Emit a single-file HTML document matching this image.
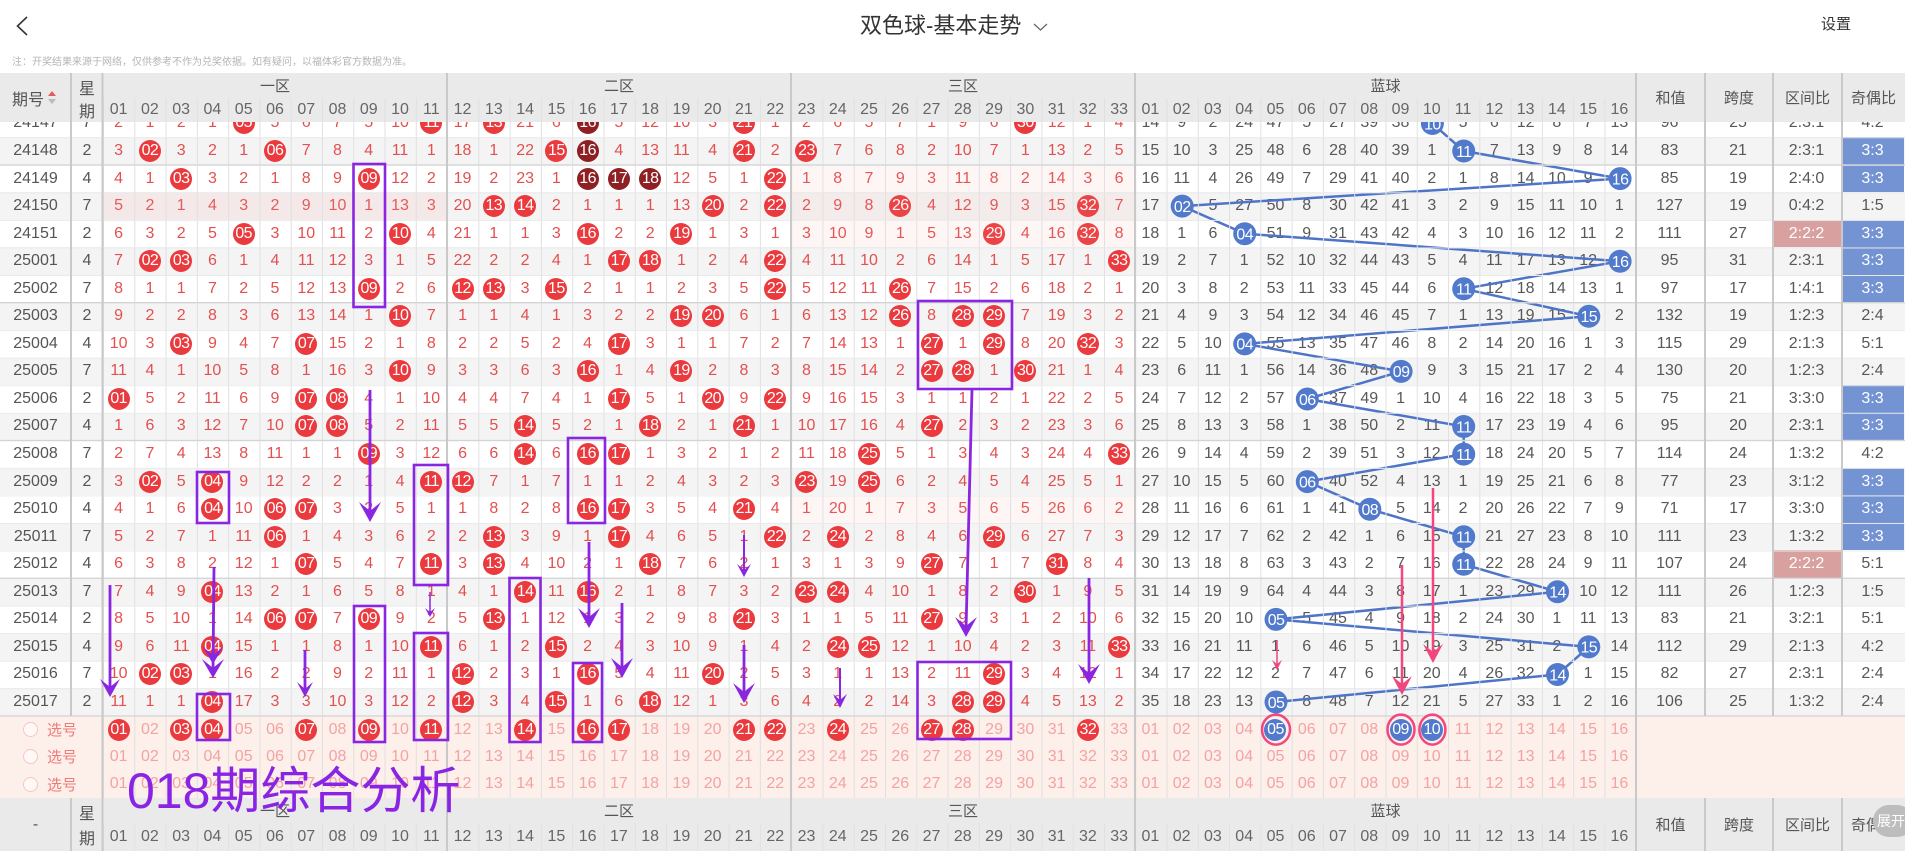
<!DOCTYPE html>
<html><head><meta charset="utf-8">
<style>
*{margin:0;padding:0;box-sizing:border-box}
html,body{width:1905px;height:851px;overflow:hidden;background:#fff}
body{position:relative;font-family:"Liberation Sans","Noto Sans CJK SC",sans-serif;color:#555}
c{display:flex;align-items:center;justify-content:center;flex:none;width:31.28px;height:100%;white-space:nowrap}
b{display:flex;align-items:center;justify-content:center;width:22px;height:22px;border-radius:50%;background:#ea3a3e;color:#fff;font-weight:normal;letter-spacing:-.6px;font-size:16px}
b.d{background:#8e1f22}
b.u{background:#5179cc}
#dt{position:absolute;left:0;top:109.7px;width:1905px;z-index:1}
.r{display:flex;height:27.55px;font-size:16px;background:#fff}
.r.g{background:#f4f4f4}
.r c:nth-child(1){width:71px;color:#555}
.r c:nth-child(2){width:32px;color:#555}
.r c:nth-child(n+3){color:#e44f4f}
.r c:nth-child(n+36){color:#585858}
.r c:nth-child(52){width:69px}
.r c:nth-child(53){width:68px}
.r c:nth-child(54){width:69px}
.r c:nth-child(55){width:63px}
c.bl{background:#7393d3!important;color:#fff!important}
c.pk{background:#d9a0a0!important;color:#fff!important}
#xh{position:absolute;left:0;top:716px;width:1905px;height:82px;background:#fdefe9;z-index:1}
.x{display:flex;height:27.33px;font-size:16px;color:#f3a3a3}
.x c:first-child{width:103px;justify-content:flex-start;padding-left:23px;color:#f07a7a;font-size:15px}
.x c:first-child i{display:block;width:15px;height:15px;border:1px solid #f5c6c6;border-radius:50%;margin-right:9px;background:#fff8f6}
#hd,#ft{position:absolute;left:0;width:1905px;background:#eaeaea;z-index:5;color:#555;font-size:15px}
#hd{top:73px;height:49px}
#ft{top:798px;height:53px}
.ab{position:absolute;display:flex;align-items:center;justify-content:center}
.nr{position:absolute;left:103px;display:flex;font-size:16px;color:#666}
</style></head><body>

<!-- top bar -->
<svg width="40" height="50" style="position:absolute;left:0;top:0"><polyline points="27,17 17.5,26 27,35" fill="none" stroke="#333" stroke-width="1.6"/></svg>
<div style="position:absolute;left:860px;top:15px;font-size:22px;line-height:22px;color:#333;white-space:nowrap">双色球-基本走势</div>
<svg width="20" height="14" style="position:absolute;left:1031px;top:20px"><polyline points="3,4 9.5,10 16,4" fill="none" stroke="#666" stroke-width="1.2"/></svg>
<div style="position:absolute;left:1821px;top:17px;font-size:15px;line-height:16px;color:#333">设置</div>
<div style="position:absolute;left:12px;top:57px;font-size:10px;line-height:12px;color:#b4b4b4;white-space:nowrap">注：开奖结果来源于网络，仅供参考不作为兑奖依据。如有疑问，以福体彩官方数据为准。</div>

<!-- header -->
<div id="hd">
<div class="ab" style="left:0;top:0;width:71px;height:49px;font-size:16px;justify-content:flex-start;padding-left:12px">期号<svg width="10" height="20" style="margin-left:3px"><polygon points="1,8 5,3 9,8" fill="#e85a5a"/><polygon points="1,11 5,16 9,11" fill="#bbb"/></svg></div>
<div class="ab" style="left:71px;top:1px;width:32px;height:25px;font-size:16px">星</div>
<div class="ab" style="left:71px;top:25px;width:32px;height:24px;font-size:16px">期</div>
<div class="ab" style="left:103px;top:0;width:344px;height:25px">一区</div>
<div class="ab" style="left:447px;top:0;width:344px;height:25px">二区</div>
<div class="ab" style="left:791px;top:0;width:344px;height:25px">三区</div>
<div class="ab" style="left:1135px;top:0;width:501px;height:25px">蓝球</div>
<div class="nr" style="top:25px;height:24px"><c>01</c><c>02</c><c>03</c><c>04</c><c>05</c><c>06</c><c>07</c><c>08</c><c>09</c><c>10</c><c>11</c><c>12</c><c>13</c><c>14</c><c>15</c><c>16</c><c>17</c><c>18</c><c>19</c><c>20</c><c>21</c><c>22</c><c>23</c><c>24</c><c>25</c><c>26</c><c>27</c><c>28</c><c>29</c><c>30</c><c>31</c><c>32</c><c>33</c><c>01</c><c>02</c><c>03</c><c>04</c><c>05</c><c>06</c><c>07</c><c>08</c><c>09</c><c>10</c><c>11</c><c>12</c><c>13</c><c>14</c><c>15</c><c>16</c></div>
<div class="ab" style="left:1636px;top:0;width:69px;height:49px">和值</div>
<div class="ab" style="left:1705px;top:0;width:68px;height:49px">跨度</div>
<div class="ab" style="left:1773px;top:0;width:69px;height:49px">区间比</div>
<div class="ab" style="left:1842px;top:0;width:63px;height:49px">奇偶比</div>
</div>

<!-- data rows -->
<div id="dt">
<div class="r"><c>24147</c><c>7</c><c>2</c><c>1</c><c>2</c><c>1</c><c><b>05</b></c><c>5</c><c>6</c><c>7</c><c>5</c><c>10</c><c><b>11</b></c><c>17</c><c><b>13</b></c><c>21</c><c>6</c><c><b class="d">16</b></c><c>5</c><c>12</c><c>10</c><c>3</c><c><b>21</b></c><c>1</c><c>2</c><c>6</c><c>5</c><c>7</c><c>1</c><c>9</c><c>6</c><c><b>30</b></c><c>12</c><c>1</c><c>4</c><c>14</c><c>9</c><c>2</c><c>24</c><c>47</c><c>5</c><c>27</c><c>39</c><c>38</c><c></c><c>5</c><c>6</c><c>12</c><c>8</c><c>7</c><c>13</c><c>96</c><c>25</c><c>2:3:1</c><c>4:2</c></div>
<div class="r g"><c>24148</c><c>2</c><c>3</c><c><b>02</b></c><c>3</c><c>2</c><c>1</c><c><b>06</b></c><c>7</c><c>8</c><c>4</c><c>11</c><c>1</c><c>18</c><c>1</c><c>22</c><c><b>15</b></c><c><b class="d">16</b></c><c>4</c><c>13</c><c>11</c><c>4</c><c><b>21</b></c><c>2</c><c><b>23</b></c><c>7</c><c>6</c><c>8</c><c>2</c><c>10</c><c>7</c><c>1</c><c>13</c><c>2</c><c>5</c><c>15</c><c>10</c><c>3</c><c>25</c><c>48</c><c>6</c><c>28</c><c>40</c><c>39</c><c>1</c><c></c><c>7</c><c>13</c><c>9</c><c>8</c><c>14</c><c>83</c><c>21</c><c>2:3:1</c><c class="bl">3:3</c></div>
<div class="r"><c>24149</c><c>4</c><c>4</c><c>1</c><c><b>03</b></c><c>3</c><c>2</c><c>1</c><c>8</c><c>9</c><c><b>09</b></c><c>12</c><c>2</c><c>19</c><c>2</c><c>23</c><c>1</c><c><b class="d">16</b></c><c><b class="d">17</b></c><c><b class="d">18</b></c><c>12</c><c>5</c><c>1</c><c><b>22</b></c><c>1</c><c>8</c><c>7</c><c>9</c><c>3</c><c>11</c><c>8</c><c>2</c><c>14</c><c>3</c><c>6</c><c>16</c><c>11</c><c>4</c><c>26</c><c>49</c><c>7</c><c>29</c><c>41</c><c>40</c><c>2</c><c>1</c><c>8</c><c>14</c><c>10</c><c>9</c><c></c><c>85</c><c>19</c><c>2:4:0</c><c class="bl">3:3</c></div>
<div class="r g"><c>24150</c><c>7</c><c>5</c><c>2</c><c>1</c><c>4</c><c>3</c><c>2</c><c>9</c><c>10</c><c>1</c><c>13</c><c>3</c><c>20</c><c><b>13</b></c><c><b>14</b></c><c>2</c><c>1</c><c>1</c><c>1</c><c>13</c><c><b>20</b></c><c>2</c><c><b>22</b></c><c>2</c><c>9</c><c>8</c><c><b>26</b></c><c>4</c><c>12</c><c>9</c><c>3</c><c>15</c><c><b>32</b></c><c>7</c><c>17</c><c></c><c>5</c><c>27</c><c>50</c><c>8</c><c>30</c><c>42</c><c>41</c><c>3</c><c>2</c><c>9</c><c>15</c><c>11</c><c>10</c><c>1</c><c>127</c><c>19</c><c>0:4:2</c><c>1:5</c></div>
<div class="r"><c>24151</c><c>2</c><c>6</c><c>3</c><c>2</c><c>5</c><c><b>05</b></c><c>3</c><c>10</c><c>11</c><c>2</c><c><b>10</b></c><c>4</c><c>21</c><c>1</c><c>1</c><c>3</c><c><b>16</b></c><c>2</c><c>2</c><c><b>19</b></c><c>1</c><c>3</c><c>1</c><c>3</c><c>10</c><c>9</c><c>1</c><c>5</c><c>13</c><c><b>29</b></c><c>4</c><c>16</c><c><b>32</b></c><c>8</c><c>18</c><c>1</c><c>6</c><c></c><c>51</c><c>9</c><c>31</c><c>43</c><c>42</c><c>4</c><c>3</c><c>10</c><c>16</c><c>12</c><c>11</c><c>2</c><c>111</c><c>27</c><c class="pk">2:2:2</c><c class="bl">3:3</c></div>
<div class="r g"><c>25001</c><c>4</c><c>7</c><c><b>02</b></c><c><b>03</b></c><c>6</c><c>1</c><c>4</c><c>11</c><c>12</c><c>3</c><c>1</c><c>5</c><c>22</c><c>2</c><c>2</c><c>4</c><c>1</c><c><b>17</b></c><c><b>18</b></c><c>1</c><c>2</c><c>4</c><c><b>22</b></c><c>4</c><c>11</c><c>10</c><c>2</c><c>6</c><c>14</c><c>1</c><c>5</c><c>17</c><c>1</c><c><b>33</b></c><c>19</c><c>2</c><c>7</c><c>1</c><c>52</c><c>10</c><c>32</c><c>44</c><c>43</c><c>5</c><c>4</c><c>11</c><c>17</c><c>13</c><c>12</c><c></c><c>95</c><c>31</c><c>2:3:1</c><c class="bl">3:3</c></div>
<div class="r"><c>25002</c><c>7</c><c>8</c><c>1</c><c>1</c><c>7</c><c>2</c><c>5</c><c>12</c><c>13</c><c><b>09</b></c><c>2</c><c>6</c><c><b>12</b></c><c><b>13</b></c><c>3</c><c><b>15</b></c><c>2</c><c>1</c><c>1</c><c>2</c><c>3</c><c>5</c><c><b>22</b></c><c>5</c><c>12</c><c>11</c><c><b>26</b></c><c>7</c><c>15</c><c>2</c><c>6</c><c>18</c><c>2</c><c>1</c><c>20</c><c>3</c><c>8</c><c>2</c><c>53</c><c>11</c><c>33</c><c>45</c><c>44</c><c>6</c><c></c><c>12</c><c>18</c><c>14</c><c>13</c><c>1</c><c>97</c><c>17</c><c>1:4:1</c><c class="bl">3:3</c></div>
<div class="r g"><c>25003</c><c>2</c><c>9</c><c>2</c><c>2</c><c>8</c><c>3</c><c>6</c><c>13</c><c>14</c><c>1</c><c><b>10</b></c><c>7</c><c>1</c><c>1</c><c>4</c><c>1</c><c>3</c><c>2</c><c>2</c><c><b>19</b></c><c><b>20</b></c><c>6</c><c>1</c><c>6</c><c>13</c><c>12</c><c><b>26</b></c><c>8</c><c><b>28</b></c><c><b>29</b></c><c>7</c><c>19</c><c>3</c><c>2</c><c>21</c><c>4</c><c>9</c><c>3</c><c>54</c><c>12</c><c>34</c><c>46</c><c>45</c><c>7</c><c>1</c><c>13</c><c>19</c><c>15</c><c></c><c>2</c><c>132</c><c>19</c><c>1:2:3</c><c>2:4</c></div>
<div class="r"><c>25004</c><c>4</c><c>10</c><c>3</c><c><b>03</b></c><c>9</c><c>4</c><c>7</c><c><b>07</b></c><c>15</c><c>2</c><c>1</c><c>8</c><c>2</c><c>2</c><c>5</c><c>2</c><c>4</c><c><b>17</b></c><c>3</c><c>1</c><c>1</c><c>7</c><c>2</c><c>7</c><c>14</c><c>13</c><c>1</c><c><b>27</b></c><c>1</c><c><b>29</b></c><c>8</c><c>20</c><c><b>32</b></c><c>3</c><c>22</c><c>5</c><c>10</c><c></c><c>55</c><c>13</c><c>35</c><c>47</c><c>46</c><c>8</c><c>2</c><c>14</c><c>20</c><c>16</c><c>1</c><c>3</c><c>115</c><c>29</c><c>2:1:3</c><c>5:1</c></div>
<div class="r g"><c>25005</c><c>7</c><c>11</c><c>4</c><c>1</c><c>10</c><c>5</c><c>8</c><c>1</c><c>16</c><c>3</c><c><b>10</b></c><c>9</c><c>3</c><c>3</c><c>6</c><c>3</c><c><b>16</b></c><c>1</c><c>4</c><c><b>19</b></c><c>2</c><c>8</c><c>3</c><c>8</c><c>15</c><c>14</c><c>2</c><c><b>27</b></c><c><b>28</b></c><c>1</c><c><b>30</b></c><c>21</c><c>1</c><c>4</c><c>23</c><c>6</c><c>11</c><c>1</c><c>56</c><c>14</c><c>36</c><c>48</c><c></c><c>9</c><c>3</c><c>15</c><c>21</c><c>17</c><c>2</c><c>4</c><c>130</c><c>20</c><c>1:2:3</c><c>2:4</c></div>
<div class="r"><c>25006</c><c>2</c><c><b>01</b></c><c>5</c><c>2</c><c>11</c><c>6</c><c>9</c><c><b>07</b></c><c><b>08</b></c><c>4</c><c>1</c><c>10</c><c>4</c><c>4</c><c>7</c><c>4</c><c>1</c><c><b>17</b></c><c>5</c><c>1</c><c><b>20</b></c><c>9</c><c><b>22</b></c><c>9</c><c>16</c><c>15</c><c>3</c><c>1</c><c>1</c><c>2</c><c>1</c><c>22</c><c>2</c><c>5</c><c>24</c><c>7</c><c>12</c><c>2</c><c>57</c><c></c><c>37</c><c>49</c><c>1</c><c>10</c><c>4</c><c>16</c><c>22</c><c>18</c><c>3</c><c>5</c><c>75</c><c>21</c><c>3:3:0</c><c class="bl">3:3</c></div>
<div class="r g"><c>25007</c><c>4</c><c>1</c><c>6</c><c>3</c><c>12</c><c>7</c><c>10</c><c><b>07</b></c><c><b>08</b></c><c>5</c><c>2</c><c>11</c><c>5</c><c>5</c><c><b>14</b></c><c>5</c><c>2</c><c>1</c><c><b>18</b></c><c>2</c><c>1</c><c><b>21</b></c><c>1</c><c>10</c><c>17</c><c>16</c><c>4</c><c><b>27</b></c><c>2</c><c>3</c><c>2</c><c>23</c><c>3</c><c>6</c><c>25</c><c>8</c><c>13</c><c>3</c><c>58</c><c>1</c><c>38</c><c>50</c><c>2</c><c>11</c><c></c><c>17</c><c>23</c><c>19</c><c>4</c><c>6</c><c>95</c><c>20</c><c>2:3:1</c><c class="bl">3:3</c></div>
<div class="r"><c>25008</c><c>7</c><c>2</c><c>7</c><c>4</c><c>13</c><c>8</c><c>11</c><c>1</c><c>1</c><c><b>09</b></c><c>3</c><c>12</c><c>6</c><c>6</c><c><b>14</b></c><c>6</c><c><b>16</b></c><c><b>17</b></c><c>1</c><c>3</c><c>2</c><c>1</c><c>2</c><c>11</c><c>18</c><c><b>25</b></c><c>5</c><c>1</c><c>3</c><c>4</c><c>3</c><c>24</c><c>4</c><c><b>33</b></c><c>26</c><c>9</c><c>14</c><c>4</c><c>59</c><c>2</c><c>39</c><c>51</c><c>3</c><c>12</c><c></c><c>18</c><c>24</c><c>20</c><c>5</c><c>7</c><c>114</c><c>24</c><c>1:3:2</c><c>4:2</c></div>
<div class="r g"><c>25009</c><c>2</c><c>3</c><c><b>02</b></c><c>5</c><c><b>04</b></c><c>9</c><c>12</c><c>2</c><c>2</c><c>1</c><c>4</c><c><b>11</b></c><c><b>12</b></c><c>7</c><c>1</c><c>7</c><c>1</c><c>1</c><c>2</c><c>4</c><c>3</c><c>2</c><c>3</c><c><b>23</b></c><c>19</c><c><b>25</b></c><c>6</c><c>2</c><c>4</c><c>5</c><c>4</c><c>25</c><c>5</c><c>1</c><c>27</c><c>10</c><c>15</c><c>5</c><c>60</c><c></c><c>40</c><c>52</c><c>4</c><c>13</c><c>1</c><c>19</c><c>25</c><c>21</c><c>6</c><c>8</c><c>77</c><c>23</c><c>3:1:2</c><c class="bl">3:3</c></div>
<div class="r"><c>25010</c><c>4</c><c>4</c><c>1</c><c>6</c><c><b>04</b></c><c>10</c><c><b>06</b></c><c><b>07</b></c><c>3</c><c>2</c><c>5</c><c>1</c><c>1</c><c>8</c><c>2</c><c>8</c><c><b>16</b></c><c><b>17</b></c><c>3</c><c>5</c><c>4</c><c><b>21</b></c><c>4</c><c>1</c><c>20</c><c>1</c><c>7</c><c>3</c><c>5</c><c>6</c><c>5</c><c>26</c><c>6</c><c>2</c><c>28</c><c>11</c><c>16</c><c>6</c><c>61</c><c>1</c><c>41</c><c></c><c>5</c><c>14</c><c>2</c><c>20</c><c>26</c><c>22</c><c>7</c><c>9</c><c>71</c><c>17</c><c>3:3:0</c><c class="bl">3:3</c></div>
<div class="r g"><c>25011</c><c>7</c><c>5</c><c>2</c><c>7</c><c>1</c><c>11</c><c><b>06</b></c><c>1</c><c>4</c><c>3</c><c>6</c><c>2</c><c>2</c><c><b>13</b></c><c>3</c><c>9</c><c>1</c><c><b>17</b></c><c>4</c><c>6</c><c>5</c><c>1</c><c><b>22</b></c><c>2</c><c><b>24</b></c><c>2</c><c>8</c><c>4</c><c>6</c><c><b>29</b></c><c>6</c><c>27</c><c>7</c><c>3</c><c>29</c><c>12</c><c>17</c><c>7</c><c>62</c><c>2</c><c>42</c><c>1</c><c>6</c><c>15</c><c></c><c>21</c><c>27</c><c>23</c><c>8</c><c>10</c><c>111</c><c>23</c><c>1:3:2</c><c class="bl">3:3</c></div>
<div class="r"><c>25012</c><c>4</c><c>6</c><c>3</c><c>8</c><c>2</c><c>12</c><c>1</c><c><b>07</b></c><c>5</c><c>4</c><c>7</c><c><b>11</b></c><c>3</c><c><b>13</b></c><c>4</c><c>10</c><c>2</c><c>1</c><c><b>18</b></c><c>7</c><c>6</c><c>2</c><c>1</c><c>3</c><c>1</c><c>3</c><c>9</c><c><b>27</b></c><c>7</c><c>1</c><c>7</c><c><b>31</b></c><c>8</c><c>4</c><c>30</c><c>13</c><c>18</c><c>8</c><c>63</c><c>3</c><c>43</c><c>2</c><c>7</c><c>16</c><c></c><c>22</c><c>28</c><c>24</c><c>9</c><c>11</c><c>107</c><c>24</c><c class="pk">2:2:2</c><c>5:1</c></div>
<div class="r g"><c>25013</c><c>7</c><c>7</c><c>4</c><c>9</c><c><b>04</b></c><c>13</c><c>2</c><c>1</c><c>6</c><c>5</c><c>8</c><c>1</c><c>4</c><c>1</c><c><b>14</b></c><c>11</c><c><b>16</b></c><c>2</c><c>1</c><c>8</c><c>7</c><c>3</c><c>2</c><c><b>23</b></c><c><b>24</b></c><c>4</c><c>10</c><c>1</c><c>8</c><c>2</c><c><b>30</b></c><c>1</c><c>9</c><c>5</c><c>31</c><c>14</c><c>19</c><c>9</c><c>64</c><c>4</c><c>44</c><c>3</c><c>8</c><c>17</c><c>1</c><c>23</c><c>29</c><c></c><c>10</c><c>12</c><c>111</c><c>26</c><c>1:2:3</c><c>1:5</c></div>
<div class="r"><c>25014</c><c>2</c><c>8</c><c>5</c><c>10</c><c>1</c><c>14</c><c><b>06</b></c><c><b>07</b></c><c>7</c><c><b>09</b></c><c>9</c><c>2</c><c>5</c><c><b>13</b></c><c>1</c><c>12</c><c>1</c><c>3</c><c>2</c><c>9</c><c>8</c><c><b>21</b></c><c>3</c><c>1</c><c>1</c><c>5</c><c>11</c><c><b>27</b></c><c>9</c><c>3</c><c>1</c><c>2</c><c>10</c><c>6</c><c>32</c><c>15</c><c>20</c><c>10</c><c></c><c>5</c><c>45</c><c>4</c><c>9</c><c>18</c><c>2</c><c>24</c><c>30</c><c>1</c><c>11</c><c>13</c><c>83</c><c>21</c><c>3:2:1</c><c>5:1</c></div>
<div class="r g"><c>25015</c><c>4</c><c>9</c><c>6</c><c>11</c><c><b>04</b></c><c>15</c><c>1</c><c>1</c><c>8</c><c>1</c><c>10</c><c><b>11</b></c><c>6</c><c>1</c><c>2</c><c><b>15</b></c><c>2</c><c>4</c><c>3</c><c>10</c><c>9</c><c>1</c><c>4</c><c>2</c><c><b>24</b></c><c><b>25</b></c><c>12</c><c>1</c><c>10</c><c>4</c><c>2</c><c>3</c><c>11</c><c><b>33</b></c><c>33</c><c>16</c><c>21</c><c>11</c><c>1</c><c>6</c><c>46</c><c>5</c><c>10</c><c>19</c><c>3</c><c>25</c><c>31</c><c>2</c><c></c><c>14</c><c>112</c><c>29</c><c>2:1:3</c><c>4:2</c></div>
<div class="r"><c>25016</c><c>7</c><c>10</c><c><b>02</b></c><c><b>03</b></c><c>1</c><c>16</c><c>2</c><c>2</c><c>9</c><c>2</c><c>11</c><c>1</c><c><b>12</b></c><c>2</c><c>3</c><c>1</c><c><b>16</b></c><c>5</c><c>4</c><c>11</c><c><b>20</b></c><c>2</c><c>5</c><c>3</c><c>1</c><c>1</c><c>13</c><c>2</c><c>11</c><c><b>29</b></c><c>3</c><c>4</c><c>12</c><c>1</c><c>34</c><c>17</c><c>22</c><c>12</c><c>2</c><c>7</c><c>47</c><c>6</c><c>11</c><c>20</c><c>4</c><c>26</c><c>32</c><c></c><c>1</c><c>15</c><c>82</c><c>27</c><c>2:3:1</c><c>2:4</c></div>
<div class="r g"><c>25017</c><c>2</c><c>11</c><c>1</c><c>1</c><c><b>04</b></c><c>17</c><c>3</c><c>3</c><c>10</c><c>3</c><c>12</c><c>2</c><c><b>12</b></c><c>3</c><c>4</c><c><b>15</b></c><c>1</c><c>6</c><c><b>18</b></c><c>12</c><c>1</c><c>3</c><c>6</c><c>4</c><c>2</c><c>2</c><c>14</c><c>3</c><c><b>28</b></c><c><b>29</b></c><c>4</c><c>5</c><c>13</c><c>2</c><c>35</c><c>18</c><c>23</c><c>13</c><c></c><c>8</c><c>48</c><c>7</c><c>12</c><c>21</c><c>5</c><c>27</c><c>33</c><c>1</c><c>2</c><c>16</c><c>106</c><c>25</c><c>1:3:2</c><c>2:4</c></div>
</div>

<!-- 选号 rows -->
<div id="xh">
<div class="x"><c><i></i>选号</c><c><b>01</b></c><c>02</c><c><b>03</b></c><c><b>04</b></c><c>05</c><c>06</c><c><b>07</b></c><c>08</c><c><b>09</b></c><c>10</c><c><b>11</b></c><c>12</c><c>13</c><c><b>14</b></c><c>15</c><c><b>16</b></c><c><b>17</b></c><c>18</c><c>19</c><c>20</c><c><b>21</b></c><c><b>22</b></c><c>23</c><c><b>24</b></c><c>25</c><c>26</c><c><b>27</b></c><c><b>28</b></c><c>29</c><c>30</c><c>31</c><c><b>32</b></c><c>33</c><c>01</c><c>02</c><c>03</c><c>04</c><c><b class="u">05</b></c><c>06</c><c>07</c><c>08</c><c><b class="u">09</b></c><c><b class="u">10</b></c><c>11</c><c>12</c><c>13</c><c>14</c><c>15</c><c>16</c></div>
<div class="x"><c><i></i>选号</c><c>01</c><c>02</c><c>03</c><c>04</c><c>05</c><c>06</c><c>07</c><c>08</c><c>09</c><c>10</c><c>11</c><c>12</c><c>13</c><c>14</c><c>15</c><c>16</c><c>17</c><c>18</c><c>19</c><c>20</c><c>21</c><c>22</c><c>23</c><c>24</c><c>25</c><c>26</c><c>27</c><c>28</c><c>29</c><c>30</c><c>31</c><c>32</c><c>33</c><c>01</c><c>02</c><c>03</c><c>04</c><c>05</c><c>06</c><c>07</c><c>08</c><c>09</c><c>10</c><c>11</c><c>12</c><c>13</c><c>14</c><c>15</c><c>16</c></div>
<div class="x"><c><i></i>选号</c><c>01</c><c>02</c><c>03</c><c>04</c><c>05</c><c>06</c><c>07</c><c>08</c><c>09</c><c>10</c><c>11</c><c>12</c><c>13</c><c>14</c><c>15</c><c>16</c><c>17</c><c>18</c><c>19</c><c>20</c><c>21</c><c>22</c><c>23</c><c>24</c><c>25</c><c>26</c><c>27</c><c>28</c><c>29</c><c>30</c><c>31</c><c>32</c><c>33</c><c>01</c><c>02</c><c>03</c><c>04</c><c>05</c><c>06</c><c>07</c><c>08</c><c>09</c><c>10</c><c>11</c><c>12</c><c>13</c><c>14</c><c>15</c><c>16</c></div>
</div>

<!-- blue trend line + balls (under header) -->
<svg width="1905" height="851" style="position:absolute;left:0;top:0;z-index:2">
<rect x="103" y="192.4" width="344" height="27.5" fill="rgba(250,160,160,.14)"/>
<rect x="791" y="164.8" width="344" height="82.6" fill="rgba(250,160,160,.1)"/>
<rect x="791" y="495.4" width="344" height="27.5" fill="rgba(250,160,160,.1)"/>
<polyline points="1432.4,123.5 1463.7,151 1620.1,178.6 1182.2,206.1 1244.7,233.7 1620.1,261.2 1463.7,288.8 1588.8,316.3 1244.7,343.9 1401.1,371.4 1307.3,399 1463.7,426.5 1463.7,454.1 1307.3,481.6 1369.8,509.2 1463.7,536.7 1463.7,564.3 1557.5,591.8 1276,619.4 1588.8,646.9 1557.5,674.5 1276,702" fill="none" stroke="#4e74c7" stroke-width="2.5"/>
<g fill="#5179cc">
<circle cx="1432.4" cy="123.5" r="11.5"/><circle cx="1463.7" cy="151" r="11.5"/><circle cx="1620.1" cy="178.6" r="11.5"/><circle cx="1182.2" cy="206.1" r="11.5"/><circle cx="1244.7" cy="233.7" r="11.5"/><circle cx="1620.1" cy="261.2" r="11.5"/><circle cx="1463.7" cy="288.8" r="11.5"/><circle cx="1588.8" cy="316.3" r="11.5"/><circle cx="1244.7" cy="343.9" r="11.5"/><circle cx="1401.1" cy="371.4" r="11.5"/><circle cx="1307.3" cy="399" r="11.5"/><circle cx="1463.7" cy="426.5" r="11.5"/><circle cx="1463.7" cy="454.1" r="11.5"/><circle cx="1307.3" cy="481.6" r="11.5"/><circle cx="1369.8" cy="509.2" r="11.5"/><circle cx="1463.7" cy="536.7" r="11.5"/><circle cx="1463.7" cy="564.3" r="11.5"/><circle cx="1557.5" cy="591.8" r="11.5"/><circle cx="1276" cy="619.4" r="11.5"/><circle cx="1588.8" cy="646.9" r="11.5"/><circle cx="1557.5" cy="674.5" r="11.5"/><circle cx="1276" cy="702" r="11.5"/>
</g>
<g fill="#fff" font-family="Liberation Sans, sans-serif" font-size="16" text-anchor="middle" letter-spacing="-0.6">
<text x="1432.4" y="129.3">10</text><text x="1463.7" y="156.8">11</text><text x="1620.1" y="184.4">16</text><text x="1182.2" y="211.9">02</text><text x="1244.7" y="239.5">04</text><text x="1620.1" y="267">16</text><text x="1463.7" y="294.6">11</text><text x="1588.8" y="322.1">15</text><text x="1244.7" y="349.7">04</text><text x="1401.1" y="377.2">09</text><text x="1307.3" y="404.8">06</text><text x="1463.7" y="432.3">11</text><text x="1463.7" y="459.9">11</text><text x="1307.3" y="487.4">06</text><text x="1369.8" y="515">08</text><text x="1463.7" y="542.5">11</text><text x="1463.7" y="570.1">11</text><text x="1557.5" y="597.6">14</text><text x="1276" y="625.2">05</text><text x="1588.8" y="652.7">15</text><text x="1557.5" y="680.3">14</text><text x="1276" y="707.8">05</text>
</g>
</svg>

<!-- footer -->
<div id="ft">
<div class="ab" style="left:0;top:0;width:71px;height:53px;font-size:16px">-</div>
<div class="ab" style="left:71px;top:1px;width:32px;height:25px;font-size:16px">星</div>
<div class="ab" style="left:71px;top:25px;width:32px;height:28px;font-size:16px">期</div>
<div class="ab" style="left:103px;top:0;width:344px;height:25px">一区</div>
<div class="ab" style="left:447px;top:0;width:344px;height:25px">二区</div>
<div class="ab" style="left:791px;top:0;width:344px;height:25px">三区</div>
<div class="ab" style="left:1135px;top:0;width:501px;height:25px">蓝球</div>
<div class="nr" style="top:25px;height:28px"><c>01</c><c>02</c><c>03</c><c>04</c><c>05</c><c>06</c><c>07</c><c>08</c><c>09</c><c>10</c><c>11</c><c>12</c><c>13</c><c>14</c><c>15</c><c>16</c><c>17</c><c>18</c><c>19</c><c>20</c><c>21</c><c>22</c><c>23</c><c>24</c><c>25</c><c>26</c><c>27</c><c>28</c><c>29</c><c>30</c><c>31</c><c>32</c><c>33</c><c>01</c><c>02</c><c>03</c><c>04</c><c>05</c><c>06</c><c>07</c><c>08</c><c>09</c><c>10</c><c>11</c><c>12</c><c>13</c><c>14</c><c>15</c><c>16</c></div>
<div class="ab" style="left:1636px;top:0;width:69px;height:53px">和值</div>
<div class="ab" style="left:1705px;top:0;width:68px;height:53px">跨度</div>
<div class="ab" style="left:1773px;top:0;width:69px;height:53px">区间比</div>
<div class="ab" style="left:1842px;top:0;width:63px;height:53px">奇偶比</div>
</div>

<!-- grid lines -->
<svg width="1905" height="851" style="position:absolute;left:0;top:0;z-index:6">
<defs>
<pattern id="pv" x="103" y="0" width="31.28" height="50" patternUnits="userSpaceOnUse"><rect x="0" y="0" width="1" height="50" fill="#e0e0e0"/></pattern>
<pattern id="ph" x="0" y="109.7" width="50" height="27.55" patternUnits="userSpaceOnUse"><rect x="0" y="0" width="50" height="1" fill="#eaeaea"/></pattern>
</defs>
<rect x="103" y="98" width="1533" height="700" fill="url(#pv)"/>
<rect x="103" y="823" width="1533" height="28" fill="url(#pv)"/>
<rect x="0" y="123" width="1905" height="593" fill="url(#ph)"/>
<g fill="#d4d4d4">
<rect x="0" y="164.3" width="1905" height="1.3"/>
<rect x="0" y="302" width="1905" height="1.3"/>
<rect x="0" y="439.8" width="1905" height="1.3"/>
<rect x="0" y="577.6" width="1905" height="1.3"/>
<rect x="0" y="715.3" width="1905" height="1.3"/>
</g>
<g fill="#c9c9c9">
<rect x="70" y="73" width="2" height="643"/><rect x="70" y="798" width="2" height="53"/>
<rect x="101.5" y="73" width="2" height="778"/>
<rect x="446" y="73" width="2" height="778"/>
<rect x="790" y="73" width="2" height="778"/>
<rect x="1134" y="73" width="2" height="778"/>
<rect x="1635" y="73" width="2" height="778"/>
<rect x="1704" y="73" width="2" height="643"/><rect x="1704" y="798" width="2" height="53"/>
<rect x="1772" y="73" width="2" height="643"/><rect x="1772" y="798" width="2" height="53"/>
<rect x="1841" y="73" width="2" height="643"/><rect x="1841" y="798" width="2" height="53"/>
</g>
</svg>

<!-- purple/pink annotations (above grid) -->
<svg width="1905" height="851" style="position:absolute;left:0;top:0;z-index:7">
<g fill="none" stroke="#8a26e2" stroke-width="2.6">
<rect x="353.5" y="164" width="31.5" height="143"/>
<rect x="197" y="472" width="32" height="51"/>
<rect x="414" y="465" width="34" height="120"/>
<rect x="568" y="438" width="37" height="85"/>
<rect x="509.5" y="578" width="31" height="164"/>
<rect x="354" y="606" width="31" height="136"/>
<rect x="414" y="633" width="34" height="107"/>
<rect x="197" y="694" width="33" height="46"/>
<rect x="573" y="663" width="29" height="79"/>
<rect x="918" y="301" width="94" height="88"/>
<rect x="917.5" y="662" width="93.5" height="77"/>
</g>
<g stroke="#8a26e2" stroke-width="2.8" fill="none">
<line x1="370" y1="390" x2="370" y2="515"/>
<line x1="110" y1="585" x2="110" y2="690"/>
<line x1="214" y1="567" x2="213" y2="672"/>
<line x1="305" y1="650" x2="305" y2="692"/>
<line x1="430" y1="592" x2="430" y2="614" stroke-width="1.5"/>
<line x1="589" y1="542" x2="589" y2="622"/>
<line x1="622" y1="603" x2="622" y2="672"/>
<line x1="744" y1="535" x2="744" y2="573" stroke-width="2"/>
<line x1="744" y1="645" x2="744" y2="697"/>
<line x1="840" y1="668" x2="840" y2="704" stroke-width="2"/>
<line x1="972" y1="389" x2="966" y2="630"/>
<line x1="1089" y1="578" x2="1089" y2="678"/>
</g>
<g fill="#8a26e2">
<path d="M359,502L370,522L381,502L370,511Z"/>
<path d="M100,679L110,697L120,679L110,687Z"/>
<path d="M202,659L213,678L224,659L213,668Z"/>
<path d="M203,647L213,664L223,647L213,655Z"/>
<path d="M297,682L305,697L313,682L305,689Z"/>
<path d="M425,608L430,617L435,608L430,612Z"/>
<path d="M578,608L589,628L600,608L589,617Z"/>
<path d="M611,658L622,678L633,658L622,667Z"/>
<path d="M737,564L744,577L751,564L744,570Z"/>
<path d="M733,683L744,703L755,683L744,692Z"/>
<path d="M833,694L840,708L847,694L840,700Z"/>
<path d="M955,617L966,637L977,617L966,626Z"/>
<path d="M1078,664L1089,684L1100,664L1089,673Z"/>
</g>
<g stroke="#f2467d" stroke-width="2.5" fill="none">
<line x1="1277" y1="640" x2="1277" y2="667" stroke-width="1.5"/>
<line x1="1402" y1="565" x2="1402" y2="690"/>
<line x1="1433" y1="488" x2="1433" y2="657"/>
<ellipse cx="1276" cy="729.6" rx="14" ry="15"/>
<ellipse cx="1401" cy="729.6" rx="13.5" ry="15"/>
<ellipse cx="1432.4" cy="729.6" rx="13" ry="15"/>
</g>
<g fill="#f2467d">
<path d="M1272,660L1277,670L1282,660L1277,664Z"/>
<path d="M1392,676L1402,695L1412,676L1402,684Z"/>
<path d="M1423,644L1433,663L1443,644L1433,652Z"/>
</g>
</svg>

<div style="position:absolute;left:127px;top:766px;font-size:50px;line-height:50px;color:#8a24e4;white-space:nowrap;z-index:9">018期综合分析</div>
<div class="ab" style="left:1873px;top:805px;width:40px;height:32px;border-radius:16px;background:#bdbdbd;color:#fff;font-size:14px;justify-content:flex-start;padding-left:4px;z-index:10">展开</div>
</body></html>
